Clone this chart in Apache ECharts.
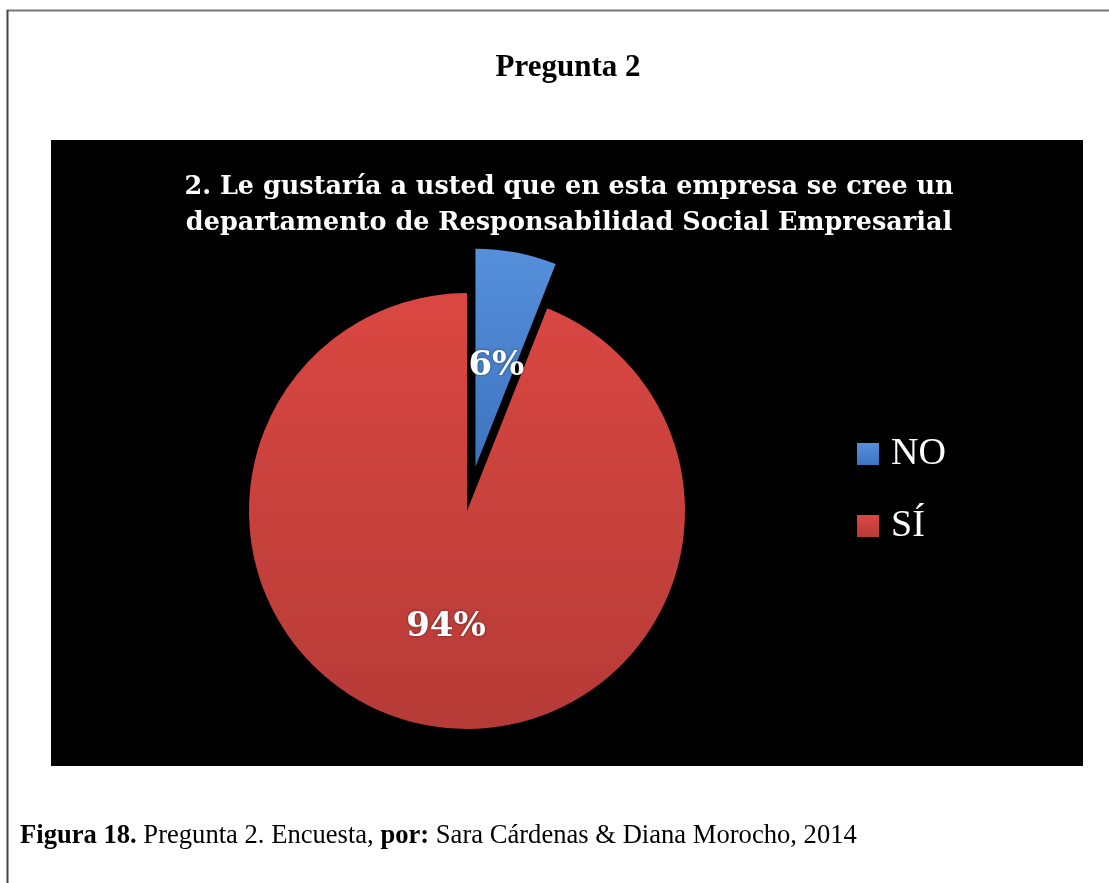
<!DOCTYPE html>
<html><head><meta charset="utf-8">
<script src="https://cdn.jsdelivr.net/npm/echarts@6/dist/echarts.min.js"></script>
<style>html,body{margin:0;padding:0;background:#fff}#c{width:1109px;height:883px}</style>
</head><body><div id="c"></div>
<script>
const categories = ['NO', 'SÍ'];
const values = [6, 94];
const pageTitle = 'Pregunta 2';
const chartTitle = '2. Le gustaría a usted que en esta empresa se cree un\ndepartamento de Responsabilidad Social Empresarial';

const colors = [
  {type:'linear',x:0,y:0,x2:0,y2:1,colorStops:[{offset:0,color:'#5690DA'},{offset:1,color:'#3E73BF'}]},
  {type:'linear',x:0,y:0,x2:0,y2:1,colorStops:[{offset:0,color:'#DA4742'},{offset:1,color:'#B63B37'}]}
];
const labelShift = [[0,9],[0,6]];

const chart = echarts.init(document.getElementById('c'));
chart.setOption({
  animation:false,
  graphic:[
    {type:'line',shape:{x1:7,y1:10.5,x2:1109,y2:10.5},style:{stroke:'#777',lineWidth:2}},
    {type:'line',shape:{x1:7.5,y1:10,x2:7.5,y2:883},style:{stroke:'#444',lineWidth:2}},
    {type:'rect',shape:{x:51,y:140,width:1032,height:626},style:{fill:'#000'},z:-10},
    {type:'text',x:568,y:68,style:{text:pageTitle,font:'bold 31px "Liberation Serif"',fill:'#000',align:'center',verticalAlign:'middle'}},
    {type:'text',left:20,top:823,style:{
      rich:{b:{font:'bold 26.6px "Liberation Serif"',fill:'#000'},n:{font:'26.6px "Liberation Serif"',fill:'#000'}},
      text:'{b|Figura 18. }{n|Pregunta 2. Encuesta, }{b|por: }{n|Sara Cárdenas & Diana Morocho, 2014}'}}
  ],
  title:{text:chartTitle,left:564,top:164,textAlign:'center',
    textStyle:{color:'#fff',fontFamily:'DejaVu Serif',fontWeight:'bold',fontSize:25.5,lineHeight:36}},
  legend:{orient:'vertical',left:857,top:435,padding:0,itemWidth:22,itemHeight:22,itemGap:34,
    icon:'rect',textStyle:{color:'#fff',fontFamily:'Liberation Serif',fontSize:38,padding:[0,0,0,7]}},
  series:[{
    type:'pie',center:[467,511],radius:218,startAngle:90,clockwise:true,
    selectedMode:'multiple',selectedOffset:45,
    label:{position:'inside',formatter:'{d}%',color:'#fff',fontFamily:'DejaVu Serif',fontWeight:'bold',fontSize:34,
      textShadowColor:'rgba(0,0,0,0.5)',textShadowBlur:3},
    labelLine:{show:false},
    itemStyle:{shadowColor:'rgba(0,0,0,0.6)',shadowBlur:6},
    emphasis:{disabled:true},
    data:categories.map((c,i)=>({name:c,value:values[i],selected:i===0,itemStyle:{color:colors[i]},
      label:{offset:labelShift[i]},select:{label:{offset:labelShift[i]}}}))
  }]
});
</script></body></html>
